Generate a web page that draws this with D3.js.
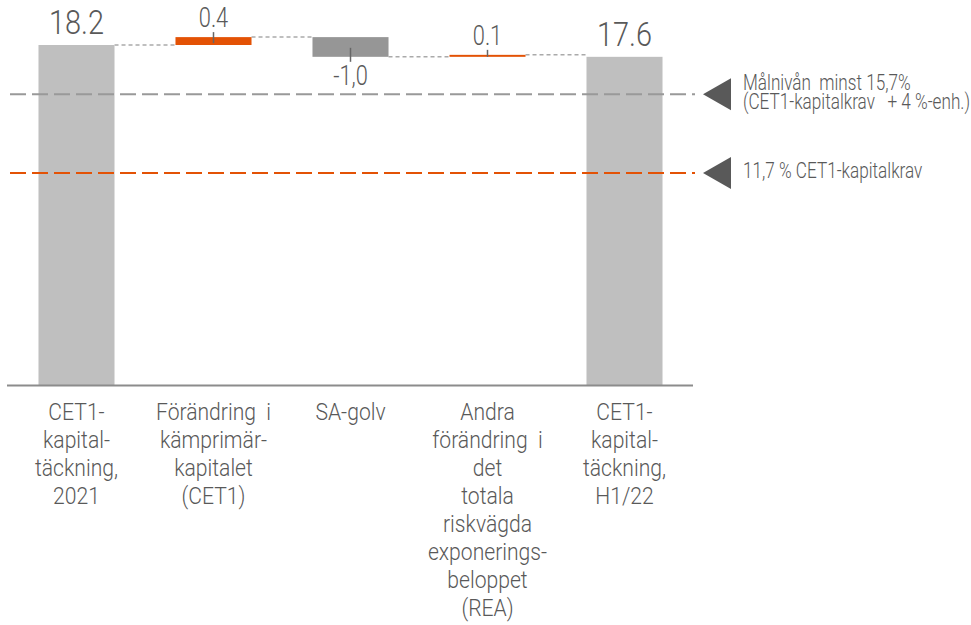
<!DOCTYPE html>
<html>
<head>
<meta charset="utf-8">
<script src="https://cdn.jsdelivr.net/npm/d3@7"></script>
<style>
  body { margin: 0; background: #fff; }
  text { font-family: Roboto, "DejaVu Sans", sans-serif; font-weight: 300; fill: #595959; white-space: pre; }
</style>
</head>
<body>
<div id="chart"></div>
<script>
const categories = ["c2021", "cet1", "sa", "rea", "h122"];
const categoryLines = [
    ["CET1-", "kapital-", "täckning,", "2021"],
    ["Förändring  i", "kämprimär-", "kapitalet", "(CET1)"],
    ["SA-golv"],
    ["Andra", "förändring  i", "det", "totala", "riskvägda", "exponerings-", "beloppet", "(REA)"],
    ["CET1-", "kapital-", "täckning,", "H1/22"]
];
const values = [18.2, 0.4, -1.0, 0.1, 17.6];
const kinds = ["total", "delta", "delta", "delta", "total"];
const valueLabels = ["18.2", "0.4", "-1,0", "0.1", "17.6"];

const refLevels = [15.7, 11.7];
const refColors = ["#999999", "#e35205"];
const refLabels = [
    ["Målnivån  minst 15,7%", "(CET1-kapitalkrav   + 4 %-enh.)"],
    ["11,7 % CET1-kapitalkrav"]
];

const width = 971;
const height = 625;

const svg = d3.select("#chart").append("svg")
    .attr("width", width)
    .attr("height", height);

const xScale = d3.scaleBand()
    .domain(categories)
    .range([8, 693])
    .paddingInner(0.445)
    .paddingOuter(0.2225);

const yScale = d3.scaleLinear()
    .domain([0.92, 18.2])
    .range([385.5, 45]);

function addText(x, y, str, size, anchor, sx) {
    svg.append("g")
        .attr("transform", `translate(${x},${y}) scale(${sx || 0.78},1)`)
        .append("text")
        .attr("text-anchor", anchor || "middle")
        .style("font-size", size + "px")
        .text(str);
}

// waterfall steps
let running = 0;
const steps = values.map((v, i) => {
    let start, end;
    if (kinds[i] === "total") {
        start = yScale.domain()[0];
        end = v;
        running = v;
    } else {
        start = running;
        end = running + v;
        running = end;
    }
    return { key: categories[i], v, kind: kinds[i], start, end, label: valueLabels[i] };
});

// connectors
steps.forEach((d, i) => {
    if (i === steps.length - 1) return;
    svg.append("line")
        .attr("x1", xScale(d.key) + xScale.bandwidth())
        .attr("x2", xScale(steps[i + 1].key))
        .attr("y1", yScale(d.end))
        .attr("y2", yScale(d.end))
        .attr("stroke", "#aaaaaa")
        .attr("stroke-width", 1.5)
        .attr("stroke-dasharray", "4,3");
});

// bars
svg.selectAll("rect.bar")
    .data(steps)
    .enter().append("rect")
    .attr("class", "bar")
    .attr("x", d => xScale(d.key))
    .attr("width", xScale.bandwidth())
    .attr("y", d => yScale(Math.max(d.start, d.end)))
    .attr("height", d => Math.abs(yScale(d.start) - yScale(d.end)))
    .attr("fill", d => d.kind === "total" ? "#bfbfbf" : (d.v < 0 ? "#969696" : "#e35205"));

// small leader ticks on the change bars
steps.filter(d => d.kind === "delta").forEach(d => {
    const cx = xScale(d.key) + xScale.bandwidth() / 2;
    const yEnd = yScale(d.end);
    const h = Math.abs(yScale(d.start) - yEnd);
    svg.append("line")
        .attr("x1", cx).attr("x2", cx)
        .attr("y1", d.v < 0 ? yEnd - 9 : yEnd - 5)
        .attr("y2", d.v < 0 ? yEnd + 5 : yEnd + Math.min(6, h))
        .attr("stroke", "#666666")
        .attr("stroke-width", 1.5);
});

// value labels
steps.forEach(d => {
    const cx = xScale(d.key) + xScale.bandwidth() / 2;
    if (d.kind === "total") {
        addText(cx, yScale(d.end) - 11, d.label, 34, "middle", 0.85);
    } else if (d.v < 0) {
        addText(cx, yScale(d.end) + 28, d.label, 28);
    } else {
        addText(cx, yScale(d.end) - 10, d.label, 28);
    }
});

// baseline axis
svg.append("line")
    .attr("x1", 7).attr("x2", 693)
    .attr("y1", yScale.range()[0]).attr("y2", yScale.range()[0])
    .attr("stroke", "#8c8c8c")
    .attr("stroke-width", 2);

// category labels
categoryLines.forEach((lines, i) => {
    const cx = xScale(categories[i]) + xScale.bandwidth() / 2;
    lines.forEach((line, j) => addText(cx, 420 + j * 28, line, 24, "middle", 0.88));
});

// reference lines
refLevels.forEach((lvl, i) => {
    const y = yScale(lvl);
    svg.append("line")
        .attr("x1", 10).attr("x2", 695)
        .attr("y1", y).attr("y2", y)
        .attr("stroke", refColors[i])
        .attr("stroke-width", 2)
        .attr("stroke-dasharray", "16,6");
    svg.append("path")
        .attr("d", `M703,${y} L731,${y - 16} L731,${y + 16} Z`)
        .attr("fill", "#595959");
    const lines = refLabels[i];
    lines.forEach((line, j) => {
        addText(743, (lines.length > 1 ? y - 4 : y + 5) + j * 19, line, 22, "start", 0.78);
    });
});
</script>
</body>
</html>
